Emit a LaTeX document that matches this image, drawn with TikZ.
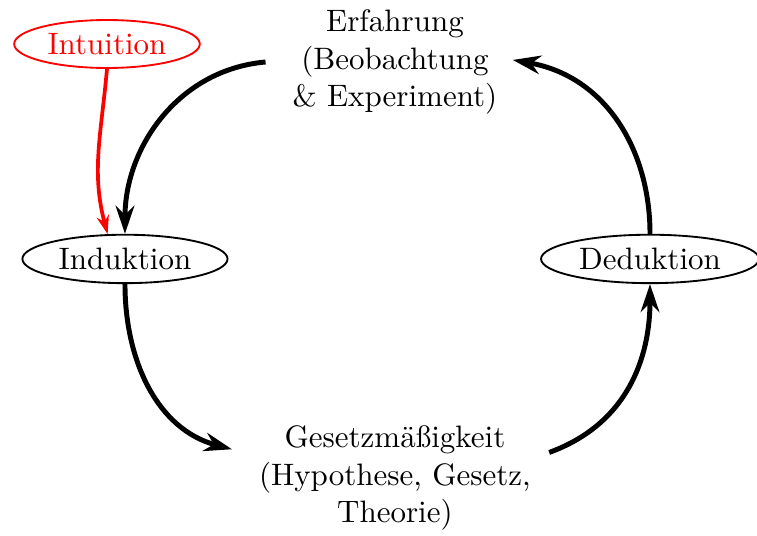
\documentclass[tikz,border=0pt]{standalone}
\usetikzlibrary{arrows.meta,shapes.geometric}

\tikzset{
  stage/.style={ellipse, draw, semithick, inner sep=2pt},
  phase/.style={align=center, inner sep=3mm},
  cyclearrow/.style={-{Stealth[length=9pt,width=6pt]}, ultra thick},
}

\begin{document}
\begin{tikzpicture}
  \useasboundingbox (0,0) rectangle (8.583,6.077);

  % the two text blocks
  \node[phase] (erfahrung) at (4.478,5.374) {Erfahrung\\(Beobachtung\\\& Experiment)};
  \node[phase] (gesetz) at (4.478,0.657) {Gesetzmäßigkeit\\(Hypothese, Gesetz,\\Theorie)};

  % the ellipses
  \node[stage] (induktion) at (1.417,3.141) {Induktion};
  \node[stage] (deduktion) at (7.370,3.141) {Deduktion};
  \node[stage, red] (intuition) at (1.213,5.578) {Intuition};

  % the cycle
  \draw[cyclearrow] (erfahrung.west) to[out=185, in=90] (induktion.north);
  \draw[cyclearrow] (induktion.south) to[out=-90, in=165] (gesetz.170);
  \draw[cyclearrow, shorten <=-3pt] (gesetz.10) to[out=20, in=-90] (deduktion.south);
  \draw[cyclearrow, shorten >=-3.8pt] (deduktion.north) to[out=90, in=-10] (erfahrung.east);

  % intuition feeds the induction
  \draw[-{Stealth[length=6pt,width=4pt]}, red, very thick] (intuition.south) to[out=-95, in=105] (induktion.125);
\end{tikzpicture}
\end{document}
